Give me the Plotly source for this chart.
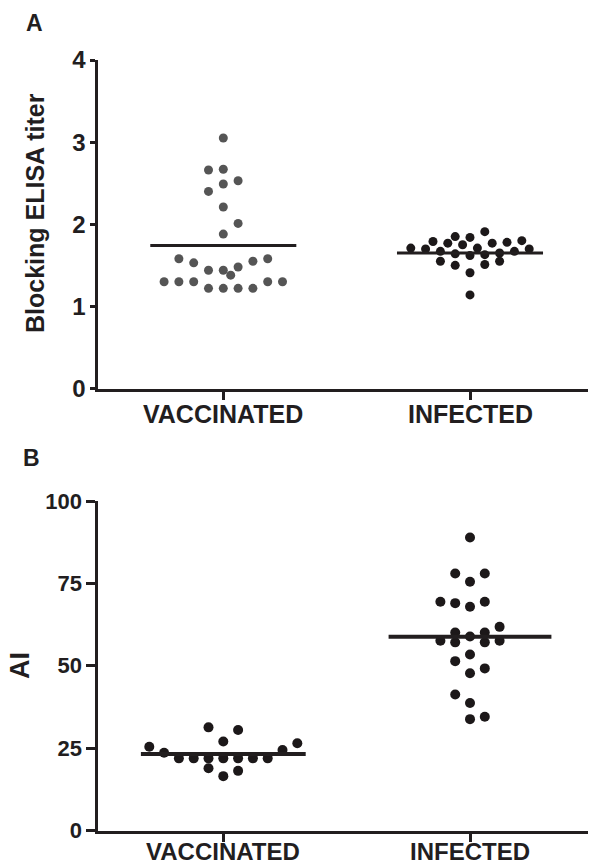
import plotly.graph_objects as go

# ---------------- data ----------------
categories = ["VACCINATED", "INFECTED"]

# Panel A: Blocking ELISA titer
a_vacc = [3.05, 2.66, 2.67, 2.53, 2.49, 2.40, 2.21, 2.01, 1.88,
          1.58, 1.53, 1.44, 1.44, 1.48, 1.55, 1.58, 1.38,
          1.30, 1.30, 1.30, 1.30, 1.30, 1.22, 1.22, 1.22, 1.22]
a_inf = [1.71, 1.70, 1.79, 1.67, 1.55, 1.77, 1.85, 1.64, 1.50, 1.75,
         1.84, 1.62, 1.41, 1.14, 1.71, 1.91, 1.63, 1.51, 1.77, 1.65,
         1.55, 1.78, 1.67, 1.80, 1.70]
a_means = [1.74, 1.65]
a_ticks = [0, 1, 2, 3, 4]

# Panel B: AI
b_vacc = [25.4, 23.6, 21.9, 21.9, 21.9, 21.9, 21.9, 21.9, 21.9,
          24.4, 26.5, 31.3, 30.5, 27.0, 18.9, 16.5, 18.1]
b_inf = [88.9, 78.0, 78.0, 75.5, 69.4, 69.0, 67.9, 69.4, 61.8,
         60.1, 60.1, 58.9, 57.6, 57.1, 57.1, 57.6, 53.4, 51.4,
         47.7, 49.2, 41.3, 38.7, 33.8, 34.5]
b_means = [23.2, 58.8]
b_ticks = [0, 25, 50, 75, 100]

# scatter-column slots (half-steps from category centre) for the dot-plot layout
a_vacc_slot = [0, -2, 0, 2, 0, -2, 0, 2, 0,
               -6, -4, -2, 0, 2, 4, 6, 1,
               -8, -6, -4, 6, 8, -2, 0, 2, 4]
a_inf_slot = [-8, -6, -5, -4, -4, -3, -2, -2, -2, -1,
              0, 0, 0, 0, 1, 2, 2, 2, 3, 4,
              4, 5, 6, 7, 8]
b_vacc_slot = [-10, -8, -6, -4, -2, 0, 2, 4, 6, 8, 10, -2, 2, 0, -2, 0, 2]
b_inf_slot = [0, -2, 2, 0, -4, -2, 0, 2, 4,
              -2, 2, 0, -4, -2, 2, 4, 0, -2,
              0, 2, -2, 0, 0, 2]

# ---------------- style ----------------
W, H = 590, 867
STEP = 0.03
INK = "#221e1f"
GRAY = "#555555"
FONT = "Liberation Sans, Arial, sans-serif"

fig = go.Figure()


def dots(vals, slots, cat_idx, color, size, xa, ya):
    xs = [cat_idx + 1 + s * STEP for s in slots]
    fig.add_trace(go.Scatter(x=xs, y=vals, mode="markers", xaxis=xa, yaxis=ya,
                             marker=dict(size=size, color=color, line=dict(width=0)),
                             showlegend=False, hoverinfo="y"))


def mean_line(m, cat_idx, half, width, xa, ya):
    fig.add_trace(go.Scatter(x=[cat_idx + 1 - half, cat_idx + 1 + half], y=[m, m],
                             mode="lines", xaxis=xa, yaxis=ya,
                             line=dict(color=INK, width=width),
                             showlegend=False, hoverinfo="skip"))


# Panel A
dots(a_vacc, a_vacc_slot, 0, GRAY, 9, "x", "y")
dots(a_inf, a_inf_slot, 1, "#1c1819", 9, "x", "y")
mean_line(a_means[0], 0, 0.296, 3, "x", "y")
mean_line(a_means[1], 1, 0.296, 3, "x", "y")

# Panel B
dots(b_vacc, b_vacc_slot, 0, "#1c1819", 10, "x2", "y2")
dots(b_inf, b_inf_slot, 1, "#1c1819", 10, "x2", "y2")
mean_line(b_means[0], 0, 0.334, 4, "x2", "y2")
mean_line(b_means[1], 1, 0.33, 4, "x2", "y2")

xdom = [98.3 / W, 588 / W]
xrange_ = [1 - 125 / 246.7, 2 + 118 / 246.7]


def xaxis_cfg(anchor):
    return dict(domain=xdom, range=xrange_, anchor=anchor, automargin=False,
                tickmode="array", tickvals=[1, 2], showticklabels=False,
                showline=True, linecolor=INK, linewidth=3,
                ticks="outside", ticklen=8, tickwidth=3, tickcolor=INK,
                showgrid=False, zeroline=False)


def yaxis_cfg(anchor, dom, rng, tv, ticklen, fsize):
    return dict(domain=dom, range=rng, anchor=anchor, automargin=False,
                tickmode="array", tickvals=tv,
                ticktext=["<b>%s</b>" % v for v in tv],
                showline=True, linecolor=INK, linewidth=3,
                ticks="outside", ticklen=ticklen, tickwidth=3, tickcolor=INK,
                showgrid=False, zeroline=False, ticklabelstandoff=0,
                tickfont=dict(family=FONT, size=fsize, color=INK))


fig.update_layout(
    width=W, height=H,
    margin=dict(l=0, r=0, t=0, b=0, autoexpand=False),
    paper_bgcolor="white", plot_bgcolor="white",
    xaxis=xaxis_cfg("y"),
    yaxis=yaxis_cfg("x", [(H - 388.5) / H, (H - 60) / H], [0, 4], a_ticks, 5, 24),
    xaxis2=xaxis_cfg("y2"),
    yaxis2=yaxis_cfg("x2", [(H - 830.5) / H, (H - 501) / H], [0, 100], b_ticks, 9, 22),
)

ann_font = dict(family=FONT, color=INK)

# category labels under each x axis
for xa, ycen, fs in (("x", 414, 25), ("x2", 851, 24)):
    for i, c in enumerate(categories):
        fig.add_annotation(text="<b>%s</b>" % c, x=i + 1, y=(H - ycen) / H,
                           xref=xa, yref="paper", showarrow=False,
                           font=dict(size=fs, **ann_font), borderpad=0,
                           xanchor="center", yanchor="middle")

fig.add_annotation(text="<b>Blocking ELISA titer</b>", x=35 / W, y=(H - 213) / H,
                   xref="paper", yref="paper", showarrow=False, textangle=-90,
                   font=dict(size=25, **ann_font), xanchor="center", yanchor="middle")
fig.add_annotation(text="<b>AI</b>", x=20 / W, y=(H - 666) / H,
                   xref="paper", yref="paper", showarrow=False, textangle=-90,
                   font=dict(size=27, **ann_font), xanchor="center", yanchor="middle")
fig.add_annotation(text="<b>A</b>", x=34 / W, y=(H - 23) / H,
                   xref="paper", yref="paper", showarrow=False,
                   font=dict(size=23, **ann_font), xanchor="center", yanchor="middle")
fig.add_annotation(text="<b>B</b>", x=31 / W, y=(H - 458) / H,
                   xref="paper", yref="paper", showarrow=False,
                   font=dict(size=23, **ann_font), xanchor="center", yanchor="middle")

fig.write_html("out.html")
